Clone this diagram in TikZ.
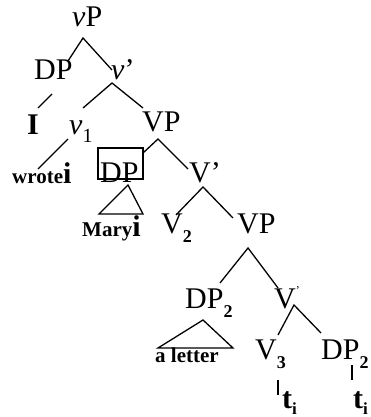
\documentclass[tikz,border=0pt]{standalone}
\usepackage{fontspec}
\setmainfont{Liberation Serif}
% lowered subscripts in a smaller size
\newcommand{\lowsub}[1]{\raisebox{-0.28em}{\fontsize{20}{20}\selectfont #1}}
\newcommand{\lowsubb}[1]{\raisebox{-0.3em}{\fontsize{18}{18}\selectfont\bfseries #1}}
\newcommand{\tracesub}[1]{\raisebox{-0.2em}{\fontsize{17}{17}\selectfont\bfseries #1}}
\newcommand{\bigi}{\fontsize{30}{30}\selectfont i}
\begin{document}
\begin{tikzpicture}[x=1pt,y=-1pt,
  cat/.style={inner sep=0pt, anchor=base west, font=\fontsize{30}{30}\selectfont},
  bcat/.style={cat, font=\fontsize{30}{30}\selectfont\bfseries},
  word/.style={inner sep=0pt, anchor=base west, font=\fontsize{21}{21}\selectfont\bfseries},
  branch/.style={line width=1.3pt}]
\useasboundingbox (0,0) rectangle (370,417);

% category labels
\node[cat] (vP)   at (72,27)  {\textit{v}P};
\node[cat] (DPa)  at (34,80)  {DP};
\node[cat] (vbar) at (111,80) {\textit{v}’};
\node[bcat] (I)   at (27,134) {I};
\node[cat] (v1)   at (69,134) {\textit{v}\lowsub{1}};
\node[cat] (VPa)  at (142,131) {VP};
\node[word] (wrote) at (12,183) {wrote\bigi};
\node[cat] (DPb)  at (100,182) {DP};
\node[cat] (Vbara) at (189,182) {V’};
\node[word] (mary) at (82,236) {Mary\bigi};
\node[cat] (V2)   at (161,233) {V\lowsubb{2}};
\node[cat] (VPb)  at (237,233) {VP};
\node[cat] (DPc)  at (185,308) {DP\lowsubb{2}};
\node[cat] (Vbarb) at (274,308) {V\raisebox{0.45em}{\fontsize{12}{12}\selectfont ’}};
\node[word] (letter) at (155,362) {a letter};
\node[cat] (V3)   at (255,359) {V\lowsubb{3}};
\node[cat] (DPd)  at (321,359) {DP\lowsubb{2}};
\node[bcat] (t1)  at (282,408) {t\tracesub{i}};
\node[bcat] (t2)  at (353,408) {t\tracesub{i}};

% box round the moved DP
\draw[branch] (98,148) rectangle (143,179);

% branch points and branch ends
\coordinate (vP-a) at (83,38);
\coordinate (DPa-t) at (68,61);
\coordinate (vbar-t) at (112,70);
\coordinate (vbar-a) at (112,83);
\coordinate (v1-t) at (83,108);
\coordinate (VPa-t) at (143,108);
\coordinate (DPa-b) at (52,94);
\coordinate (I-t) at (38,108);
\coordinate (v1-b) at (68,139);
\coordinate (wrote-t) at (38,169);
\coordinate (VPa-a) at (158,139);
\coordinate (DPb-t) at (143,153);
\coordinate (Vbara-t) at (188,169);
\coordinate (Vbara-a) at (203,187);
\coordinate (V2-t) at (176,215);
\coordinate (VPb-t) at (233,218);
\coordinate (VPb-a) at (248,248);
\coordinate (DPc-t) at (220,283);
\coordinate (Vbarb-t) at (278,288);
\coordinate (Vbarb-a) at (294,305);
\coordinate (V3-t) at (278,335);
\coordinate (DPd-t) at (321,333);
\coordinate (V3-b) at (278,380);
\coordinate (t1-t) at (278,395);
\coordinate (DPd-b) at (352,365);
\coordinate (t2-t) at (352,380);

\draw[branch] (DPa-t) -- (vP-a) -- (vbar-t);
\draw[branch] (v1-t) -- (vbar-a) -- (VPa-t);
\draw[branch] (DPa-b) -- (I-t);
\draw[branch] (v1-b) -- (wrote-t);
\draw[branch] (DPb-t) -- (VPa-a) -- (Vbara-t);
\draw[branch] (V2-t) -- (Vbara-a) -- (VPb-t);
\draw[branch] (DPc-t) -- (VPb-a) -- (Vbarb-t);
\draw[branch] (V3-t) -- (Vbarb-a) -- (DPd-t);
\draw[branch] (V3-b) -- (t1-t);
\draw[branch] (DPd-b) -- (t2-t);

% triangles over the unanalysed phrases
\coordinate (tri1-a) at (128,185);
\coordinate (tri1-l) at (99,214);
\coordinate (tri1-r) at (143,214);
\draw[branch] (tri1-a) -- (tri1-l) -- (tri1-r) -- cycle;
\coordinate (tri2-a) at (203,320);
\coordinate (tri2-l) at (158,348);
\coordinate (tri2-r) at (233,348);
\draw[branch] (tri2-a) -- (tri2-l) -- (tri2-r) -- cycle;
\end{tikzpicture}
\end{document}
